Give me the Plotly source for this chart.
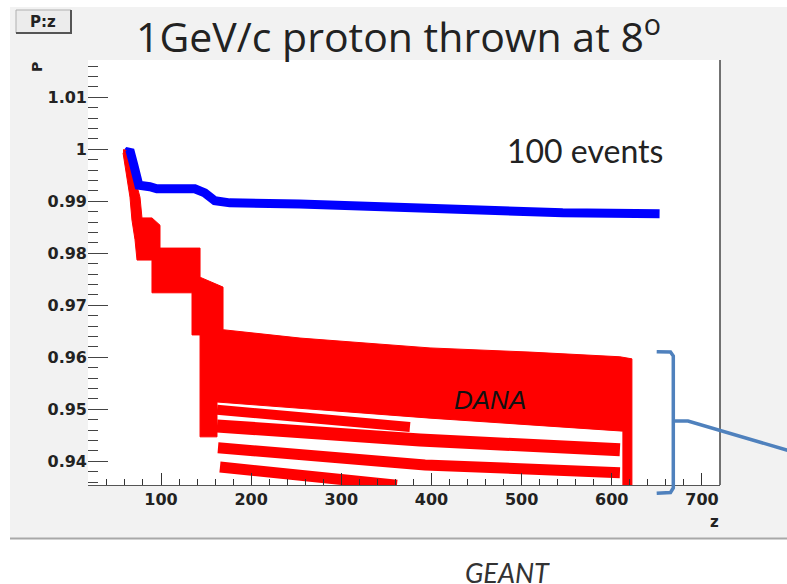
import plotly.graph_objects as go

# ---------------- data ----------------
# GEANT (blue) momentum vs z, centre line of the 100-event band
blue_z = [63.5, 65.4, 69.8, 75.4, 87.6, 95.4, 137.5, 148.6, 159.7, 176.3, 253.9, 342.6, 445.7, 545.5, 653.0]
blue_p = [0.9995, 0.9999, 0.9970, 0.9931, 0.9928, 0.9924, 0.9924, 0.9916, 0.9901, 0.9897, 0.9895, 0.9889, 0.9883, 0.9878, 0.9876]

# DANA (red) envelope: upper edge (left->right) and lower edge (right->left)
red_upper_z = [57.9, 62.3, 76.7, 78.9, 90.0, 98.9, 98.9, 143.3, 143.3, 168.8, 168.8, 254.2, 398.4, 509.3, 609.0, 622.3]
red_upper_p = [0.9999, 0.9999, 0.9908, 0.9868, 0.9868, 0.9854, 0.9810, 0.9810, 0.9754, 0.9735, 0.9653, 0.9637, 0.9618, 0.9610, 0.9601, 0.9597]
red_lower_z = [622.3, 612.3, 612.3, 398.4, 162.1, 162.1, 143.3, 143.3, 134.4, 134.4, 90.0, 90.0, 73.4, 71.2, 67.8, 65.6, 57.9]
red_lower_p = [0.9349, 0.9349, 0.9458, 0.9483, 0.9514, 0.9447, 0.9447, 0.9643, 0.9643, 0.9724, 0.9724, 0.9787, 0.9787, 0.9826, 0.9864, 0.9908, 0.9993]

# DANA separated tracks below the main band
trackA_z = [162.1, 376.1]
trackA_p = [0.9499, 0.9466]
trackB_z = [162.1, 387.3, 609.0]
trackB_p = [0.9468, 0.9441, 0.9422]
trackC_z = [163.2, 392.8, 609.0]
trackC_p = [0.9426, 0.9393, 0.9378]
trackD_z = [165.4, 361.7]
trackD_p = [0.9389, 0.9354]

x_ticks = [100, 200, 300, 400, 500, 600, 700]
y_ticks = [0.94, 0.95, 0.96, 0.97, 0.98, 0.99, 1.00, 1.01]
y_ticktext = ["0.94", "0.95", "0.96", "0.97", "0.98", "0.99", "1", "1.01"]

# ---------------- figure ----------------
W, H = 787, 584
L, R, T, B = 88, 720, 60, 485


def px(x):
    return (x - L) / (R - L)


def py(y):
    return (B - y) / (B - T)


fig = go.Figure()

fig.add_trace(go.Scatter(
    x=red_upper_z + red_lower_z, y=red_upper_p + red_lower_p,
    mode="lines", fill="toself", fillcolor="#ff0000",
    line=dict(color="#ff0000", width=1), hoverinfo="skip", showlegend=False))

for tz, tp, w in [(trackA_z, trackA_p, 10), (trackB_z, trackB_p, 13),
                  (trackC_z, trackC_p, 11), (trackD_z, trackD_p, 11)]:
    fig.add_trace(go.Scatter(x=tz, y=tp, mode="lines",
                             line=dict(color="#ff0000", width=w),
                             hoverinfo="skip", showlegend=False))

fig.add_trace(go.Scatter(x=blue_z, y=blue_p, mode="lines",
                         line=dict(color="#0000ff", width=9),
                         hoverinfo="skip", showlegend=False))

tickfont = dict(family="DejaVu Sans", size=16, color="#222222", weight="bold")

fig.update_layout(
    width=W, height=H,
    margin=dict(l=L, r=W - R, t=T, b=H - B, pad=0),
    paper_bgcolor="white", plot_bgcolor="white",
    showlegend=False,
    xaxis=dict(range=[19.04, 720.0], tickvals=x_ticks, ticks="inside", ticklen=12,
               tickwidth=1, tickcolor="#333333", showline=True, linecolor="#555555",
               linewidth=1, showgrid=False, zeroline=False, tickfont=tickfont,
               minor=dict(ticks="inside", ticklen=6, dtick=20, tickcolor="#333333",
                          showgrid=False)),
    yaxis=dict(range=[0.93544, 1.01717], tickvals=y_ticks, ticktext=y_ticktext,
               ticks="inside", ticklen=20, tickwidth=1, tickcolor="#444444",
               showline=False, showgrid=False, zeroline=False, tickfont=tickfont,
               minor=dict(ticks="inside", ticklen=10, dtick=0.002, tickcolor="#444444",
                          showgrid=False)),
)

shapes = []
# grey canvas background and white plot pad
shapes.append(dict(type="rect", xref="paper", yref="paper", layer="below",
                   x0=px(10), x1=px(787), y0=py(538), y1=py(7),
                   fillcolor="#f2f2f2", line=dict(width=0)))
shapes.append(dict(type="rect", xref="paper", yref="paper", layer="below",
                   x0=0, x1=1, y0=0, y1=1, fillcolor="white", line=dict(width=0)))
# bottom grey rule
shapes.append(dict(type="line", xref="paper", yref="paper",
                   x0=px(10), x1=px(787), y0=py(538.5), y1=py(538.5),
                   line=dict(color="#a8a8a8", width=2)))
# right frame line
shapes.append(dict(type="line", xref="paper", yref="paper",
                   x0=1, x1=1, y0=0, y1=1, line=dict(color="#444444", width=1.5)))
# P:z box
shapes.append(dict(type="rect", xref="paper", yref="paper",
                   x0=px(16), x1=px(71), y0=py(33), y1=py(10),
                   fillcolor="#ececec", line=dict(color="#b0b0b0", width=1)))
shapes.append(dict(type="line", xref="paper", yref="paper",
                   x0=px(16), x1=px(72), y0=py(33), y1=py(33),
                   line=dict(color="#555555", width=2)))
shapes.append(dict(type="line", xref="paper", yref="paper",
                   x0=px(71), x1=px(71), y0=py(10), y1=py(34),
                   line=dict(color="#555555", width=2)))
# blue bracket with pointer line
bracket = [(656.7, 351.7), (670.5, 352.0), (673.3, 356.0), (673.3, 488.0),
           (670.5, 492.5), (656.7, 493.3)]
path = "M " + " L ".join(f"{px(x):.5f},{py(y):.5f}" for x, y in bracket)
shapes.append(dict(type="path", xref="paper", yref="paper", path=path,
                   line=dict(color="#4f81bd", width=3.5)))
pointer = [(673.3, 421.0), (688.0, 421.0), (790.0, 451.0)]
path2 = "M " + " L ".join(f"{px(x):.5f},{py(y):.5f}" for x, y in pointer)
shapes.append(dict(type="path", xref="paper", yref="paper", path=path2,
                   line=dict(color="#4f81bd", width=3.5)))
fig.update_layout(shapes=shapes)

ann = []
ann.append(dict(text="1GeV/c proton thrown at 8<sup>o</sup>", x=px(398), y=py(34),
                xref="paper", yref="paper", showarrow=False, xanchor="center", yanchor="middle",
                font=dict(family="Open Sans", size=41, color="#222222")))
ann.append(dict(text="100 events", x=px(585), y=py(150),
                xref="paper", yref="paper", showarrow=False, xanchor="center", yanchor="middle",
                font=dict(family="Lato", size=32, color="#222222")))
ann.append(dict(text="<i>DANA</i>", x=px(490), y=py(400),
                xref="paper", yref="paper", showarrow=False, xanchor="center", yanchor="middle",
                font=dict(family="Liberation Sans", size=26, color="#111111")))
ann.append(dict(text="<i>GEANT</i>", x=px(507), y=py(572), height=24, valign="middle",
                xref="paper", yref="paper", showarrow=False, xanchor="center", yanchor="middle",
                font=dict(family="Lato", size=27, color="#333333")))
ann.append(dict(text="<b>P:z</b>", x=px(43), y=py(21.5),
                xref="paper", yref="paper", showarrow=False, xanchor="center", yanchor="middle",
                font=dict(family="DejaVu Sans", size=15, color="#222222")))
ann.append(dict(text="<b>P</b>", x=px(37), y=py(67), textangle=-90,
                xref="paper", yref="paper", showarrow=False, xanchor="center", yanchor="middle",
                font=dict(family="DejaVu Sans", size=14, color="#222222")))
ann.append(dict(text="<b>z</b>", x=px(714), y=py(522),
                xref="paper", yref="paper", showarrow=False, xanchor="center", yanchor="middle",
                font=dict(family="DejaVu Sans", size=15, color="#222222")))
fig.update_layout(annotations=ann)

fig.write_html("out.html")
